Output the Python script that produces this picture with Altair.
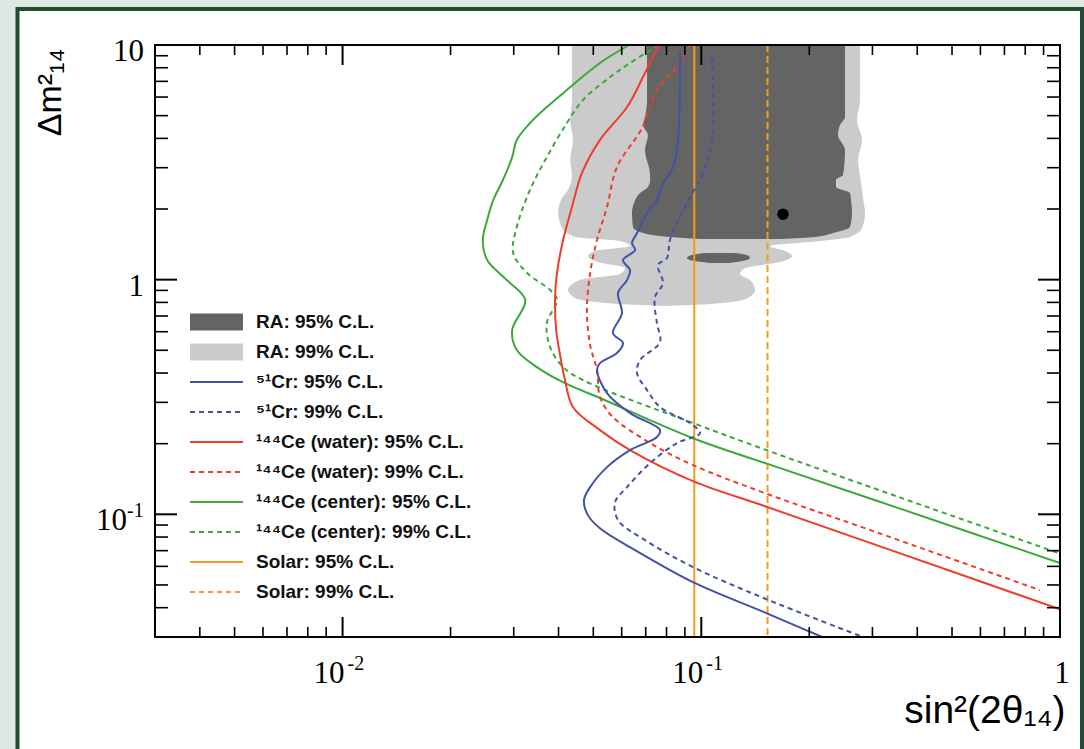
import altair as alt
import pandas as pd

# ---------------- data ----------------
# RA 99% C.L. region: rows of dm2 with left / right edge in sin^2(2theta)
ra99_dm2 = [10, 5.83, 4.79, 3.94, 3.23, 2.79, 2.41, 2.23, 1.922, 1.659, 1.519, 1.460, 1.390, 1.324,
            1.260, 1.189, 1.120, 1.056, 0.996, 0.903, 0.835, 0.787, 0.772]
ra99_lo = [0.0436, 0.0436, 0.0431, 0.0439, 0.0431, 0.0436, 0.0425, 0.0409, 0.0399, 0.0409, 0.0445,
           0.0594, 0.0633, 0.0505, 0.0483, 0.0515, 0.0613, 0.0594, 0.0459, 0.0425, 0.0445, 0.0594, 0.0792]
ra99_hi = [0.2770, 0.2770, 0.2717, 0.2806, 0.2735, 0.2770, 0.2806, 0.2824, 0.2861, 0.2806, 0.2598,
           0.2143, 0.1555, 0.1712, 0.1791, 0.1658, 0.1324, 0.1282, 0.1367, 0.1412, 0.1350, 0.1058, 0.0792]

# RA 95% C.L. region (main body + small island)
ra95_dm2 = [10, 5.83, 4.93, 4.56, 4.13, 3.57, 2.79, 2.66, 2.48, 2.34, 2.18, 1.922, 1.676, 1.580, 1.519, 1.490]
ra95_lo = [0.0706, 0.0706, 0.0697, 0.0688, 0.0710, 0.0697, 0.0720, 0.0720, 0.0710, 0.0675, 0.0654,
           0.0641, 0.0645, 0.0688, 0.0818, 0.0992]
ra95_hi = [0.2516, 0.2516, 0.2516, 0.2436, 0.2405, 0.2516, 0.2484, 0.2374, 0.2374, 0.2598, 0.2615,
           0.2632, 0.2598, 0.2330, 0.2075, 0.1658]
ra95b_dm2 = [1.298, 1.267, 1.236, 1.206, 1.177]
ra95b_lo = [0.1024, 0.0930, 0.0912, 0.0942, 0.1058]
ra95b_hi = [0.1242, 0.1350, 0.1367, 0.1324, 0.1202]

# 51Cr
cr95_x = [0.0872, 0.0872, 0.0861, 0.0834, 0.0782, 0.0752, 0.0706, 0.0662, 0.0641, 0.0654,
          0.0605, 0.0633, 0.0621, 0.0586, 0.0601, 0.0567, 0.0605, 0.0582, 0.0522, 0.0512,
          0.0546, 0.0633, 0.0767, 0.0752, 0.0633, 0.0546, 0.0490, 0.0471, 0.0483, 0.0525,
          0.0654, 0.0948, 0.1496, 0.2171]
cr95_y = [9.24, 7.09, 3.94, 3.02, 2.58, 2.18, 1.922, 1.58, 1.432, 1.337,
          1.212, 1.099, 0.996, 0.877, 0.720, 0.592, 0.537, 0.487, 0.441, 0.412,
          0.3287, 0.270, 0.2285, 0.2134, 0.1878, 0.1589, 0.1306, 0.1149, 0.0992, 0.0865,
          0.0704, 0.0514, 0.0383, 0.030]
cr99_x = [0.1071, 0.1078, 0.1071, 0.1011, 0.0948, 0.0872, 0.0818, 0.0802, 0.0757, 0.0782,
          0.0743, 0.0752, 0.0767, 0.0675, 0.0662, 0.0706, 0.0767, 0.0930, 0.0992, 0.0856,
          0.0720, 0.0621, 0.0575, 0.0586, 0.0697, 0.0948, 0.1496, 0.2824]
cr99_y = [8.89, 6.43, 3.94, 2.85, 2.36, 1.848, 1.475, 1.236, 1.154, 0.967,
          0.843, 0.653, 0.542, 0.454, 0.400, 0.3384, 0.2864, 0.2446, 0.2219, 0.2012,
          0.1653, 0.1306, 0.1127, 0.0945, 0.0776, 0.0596, 0.0439, 0.030]

# 144Ce (water)
cew95_x = [0.0760, 0.0688, 0.0621, 0.0522, 0.0465, 0.0436, 0.0412, 0.0396, 0.0391, 0.0394,
           0.0404, 0.0417, 0.0439, 0.0522, 0.0633, 0.0948, 0.1506, 0.336, 1.0]
cew95_y = [10, 7.30, 5.44, 3.94, 2.85, 2.04, 1.475, 1.067, 0.819, 0.610,
           0.477, 0.373, 0.286, 0.2285, 0.1878, 0.1385, 0.1082, 0.0705, 0.0394]
cew99_x = [0.0930, 0.0856, 0.0752, 0.0684, 0.0582, 0.0546, 0.0512, 0.0490, 0.0480, 0.0490,
           0.0512, 0.0522, 0.0567, 0.0720, 0.0948, 0.1506, 0.290, 0.880]
cew99_y = [10, 8.06, 6.43, 4.43, 3.02, 2.04, 1.475, 1.067, 0.742, 0.526,
           0.412, 0.316, 0.2596, 0.2012, 0.1621, 0.1230, 0.0866, 0.0475]

# 144Ce (center)
cec95_x = [0.0630, 0.0522, 0.0422, 0.0371, 0.0333, 0.0306, 0.0297, 0.0280, 0.0263, 0.0253,
           0.0246, 0.0253, 0.0287, 0.0323, 0.0297, 0.0306, 0.0348, 0.0417, 0.0522, 0.0948,
           0.153, 0.358, 1.0]
cec95_y = [10, 8.38, 6.43, 5.44, 4.65, 3.94, 3.33, 2.66, 2.18, 1.795,
           1.475, 1.212, 0.996, 0.819, 0.610, 0.501, 0.424, 0.362, 0.313, 0.211,
           0.164, 0.1057, 0.062]
cec99_x = [0.0760, 0.0633, 0.0557, 0.0468, 0.0422, 0.0371, 0.0333, 0.0306, 0.0299, 0.0327,
           0.0379, 0.0396, 0.0371, 0.0379, 0.0412, 0.0468, 0.0948, 0.153, 0.358, 1.0]
cec99_y = [10, 8.38, 7.30, 5.83, 4.65, 3.33, 2.41, 1.676, 1.298, 1.067,
           0.903, 0.819, 0.653, 0.516, 0.424, 0.373, 0.245, 0.187, 0.118, 0.068]

# Solar limits and RA best fit
solar95_x = [0.0956]
solar99_x = [0.153]
bestfit_x = [0.169]
bestfit_y = [1.90]

# axis ticks
x_major = [0.01, 0.1, 1]
x_minor = [0.003, 0.004, 0.005, 0.006, 0.007, 0.008, 0.009,
           0.02, 0.03, 0.04, 0.05, 0.06, 0.07, 0.08, 0.09,
           0.2, 0.3, 0.4, 0.5, 0.6, 0.7, 0.8, 0.9]
y_major = [0.1, 1, 10]
y_minor = [0.03, 0.04, 0.05, 0.06, 0.07, 0.08, 0.09,
           0.2, 0.3, 0.4, 0.5, 0.6, 0.7, 0.8, 0.9,
           2, 3, 4, 5, 6, 7, 8, 9]

# tick labels (base and exponent)
xlab_pow_vals = [0.01, 0.1]
xlab_pow_exp = ['-2', '-1']
xlab_one_vals = [1]
ylab_plain_vals = [10, 1]
ylab_plain_text = ['10', '1']
ylab_pow_vals = [0.1]
ylab_pow_exp = ['-1']

# legend
leg_labels = ['RA: 95% C.L.', 'RA: 99% C.L.', '⁵¹Cr: 95% C.L.', '⁵¹Cr: 99% C.L.',
              '¹⁴⁴Ce (water): 95% C.L.', '¹⁴⁴Ce (water): 99% C.L.',
              '¹⁴⁴Ce (center): 95% C.L.', '¹⁴⁴Ce (center): 99% C.L.',
              'Solar: 95% C.L.', 'Solar: 99% C.L.']

DARK, LIGHT = '#646464', '#cbcbcb'
BLUE, RED, GREEN, ORANGE = '#4152a8', '#ef3d2b', '#3ba938', '#f79b1c'
leg_colors = [DARK, LIGHT, BLUE, BLUE, RED, RED, GREEN, GREEN, ORANGE, ORANGE]
leg_width = [17, 17, 2, 2, 2, 2, 2, 2, 2, 2]
leg_dashed = [False, False, False, True, False, True, False, True, False, True]

# ---------------- chart ----------------
W, H = 905, 592
xs = alt.Scale(type='log', domain=[0.003, 1], nice=False)
ys = alt.Scale(type='log', domain=[0.03, 10], nice=False)

x_axis = alt.Axis(values=x_major, labels=False,
                  ticks=False, tickSize=0, domain=False, grid=False,
                  title='sin²(2θ₁₄)', titleFont='Liberation Sans', titleFontSize=39,
                  titleFontWeight='normal', titleColor='black', titleAlign='right',
                  titleAnchor='end', titleBaseline='alphabetic', titleX=910, titleY=85, zindex=2)
y_axis = alt.Axis(values=y_major, labels=False,
                  ticks=False, tickSize=0, domain=False, grid=False,
                  title='Δm²₁₄', titleFont='Liberation Sans', titleFontSize=34,
                  titleFontWeight='normal', titleColor='black', titleAngle=270,
                  titleAlign='right', titleBaseline='alphabetic', titleX=-95, titleY=3, zindex=2)

SERIF = 'Liberation Serif'


def X(f):
    return alt.X(f, type='quantitative', scale=xs, axis=x_axis)


def Y(f):
    return alt.Y(f, type='quantitative', scale=ys, axis=y_axis)


def region(dm2, lo, hi, color):
    df = pd.DataFrame({'dm2': dm2, 'lo': lo, 'hi': hi})
    return alt.Chart(df).mark_area(orient='horizontal', color=color, clip=True,
                                   interpolate='monotone').encode(
        y=Y('dm2'), x=X('lo'), x2=alt.X2('hi'))


def curve(xv, yv, color, dashed):
    df = pd.DataFrame({'x': xv, 'y': yv, 'i': list(range(len(xv)))})
    kw = dict(color=color, strokeWidth=2, clip=True, interpolate='catmull-rom')
    if dashed:
        kw['strokeDash'] = [5, 4]
    return alt.Chart(df).mark_line(**kw).encode(x=X('x'), y=Y('y'), order=alt.Order('i:Q'))


def vline(xv, dashed):
    kw = dict(color=ORANGE, strokeWidth=2)
    if dashed:
        kw['strokeDash'] = [7, 4]
    return alt.Chart(pd.DataFrame({'v': xv})).mark_rule(**kw).encode(x=X('v'))


def xticks(vals, length, sw):
    df = pd.DataFrame({'v': vals})
    bot = alt.Chart(df).mark_rule(color='black', strokeWidth=sw).encode(
        x=X('v'), y=alt.value(H), y2=alt.value(H - length))
    top = alt.Chart(df).mark_rule(color='black', strokeWidth=sw).encode(
        x=X('v'), y=alt.value(0), y2=alt.value(length))
    return [bot, top]


def yticks(vals, length, sw):
    df = pd.DataFrame({'v': vals})
    left = alt.Chart(df).mark_rule(color='black', strokeWidth=sw).encode(
        y=Y('v'), x=alt.value(0), x2=alt.value(length))
    right = alt.Chart(df).mark_rule(color='black', strokeWidth=sw).encode(
        y=Y('v'), x=alt.value(W), x2=alt.value(W - length))
    return [left, right]


def txt(df, size, **kw):
    return alt.Chart(df).mark_text(font=SERIF, fontSize=size, color='black',
                                   baseline='alphabetic', **kw)


# tick labels
xpow = pd.DataFrame({'v': xlab_pow_vals, 'e': xlab_pow_exp})
xone = pd.DataFrame({'v': xlab_one_vals})
yplain = pd.DataFrame({'v': ylab_plain_vals, 't': ylab_plain_text})
ypow = pd.DataFrame({'v': ylab_pow_vals, 'e': ylab_pow_exp})
labels = [
    txt(xpow, 31, align='right', dx=2).encode(x=X('v'), y=alt.value(H + 46), text=alt.value('10')),
    txt(xpow, 20, align='left', dx=5).encode(x=X('v'), y=alt.value(H + 33), text='e:N'),
    txt(xone, 31, align='center', dx=2).encode(x=X('v'), y=alt.value(H + 46), text=alt.value('1')),
    txt(yplain, 31, align='right', dy=16).encode(x=alt.value(-11), y=Y('v'), text='t:N'),
    txt(ypow, 31, align='right', dy=16).encode(x=alt.value(-28), y=Y('v'), text=alt.value('10')),
    txt(ypow, 20, align='left', dy=3).encode(x=alt.value(-28), y=Y('v'), text='e:N'),
]

dot = alt.Chart(pd.DataFrame({'x': bestfit_x, 'y': bestfit_y})).mark_circle(
    color='black', size=130, opacity=1).encode(x=X('x'), y=Y('y'))

data_layer = alt.layer(
    region(ra99_dm2, ra99_lo, ra99_hi, LIGHT),
    region(ra95_dm2, ra95_lo, ra95_hi, DARK),
    region(ra95b_dm2, ra95b_lo, ra95b_hi, DARK),
    vline(solar95_x, False),
    vline(solar99_x, True),
    curve(cec95_x, cec95_y, GREEN, False),
    curve(cec99_x, cec99_y, GREEN, True),
    curve(cew95_x, cew95_y, RED, False),
    curve(cew99_x, cew99_y, RED, True),
    curve(cr95_x, cr95_y, BLUE, False),
    curve(cr99_x, cr99_y, BLUE, True),
    dot,
    *xticks(x_major, 20, 2), *xticks(x_minor, 10, 1.6),
    *yticks(y_major, 22, 2), *yticks(y_minor, 13, 1.6),
    *labels,
)

leg_df = pd.DataFrame({'row': list(range(len(leg_labels))), 'label': leg_labels,
                       'color': leg_colors, 'sw': leg_width, 'dashed': leg_dashed})
LY = alt.Y('row:Q', scale=alt.Scale(domain=[0, 9], range=[277, 547]), axis=None)
leg_solid = alt.Chart(leg_df).transform_filter('!datum.dashed').mark_rule(strokeCap='butt').encode(
    x=alt.value(35), x2=alt.value(88), y=LY,
    color=alt.Color('color:N', scale=None), strokeWidth=alt.StrokeWidth('sw:Q', scale=None))
leg_dash = alt.Chart(leg_df).transform_filter('datum.dashed').mark_rule(
    strokeCap='butt', strokeDash=[5, 4]).encode(
    x=alt.value(35), x2=alt.value(88), y=LY,
    color=alt.Color('color:N', scale=None), strokeWidth=alt.StrokeWidth('sw:Q', scale=None))
leg_text = alt.Chart(leg_df).mark_text(
    align='left', baseline='middle', font='Liberation Sans', fontWeight='bold',
    fontSize=19, color='#111111').encode(x=alt.value(101), y=LY, text='label:N')
legend_layer = alt.layer(leg_solid, leg_dash, leg_text)

one = pd.DataFrame({'a': [0]})
panel = alt.Chart(one).mark_rect(fill='white', stroke='#1f4d30', strokeWidth=4).encode(
    x=alt.value(-137.5), x2=alt.value(927), y=alt.value(-36), y2=alt.value(720))
frame = alt.Chart(one).mark_rect(fill='white', fillOpacity=0, stroke='black', strokeWidth=2).encode(
    x=alt.value(0), x2=alt.value(W), y=alt.value(0), y2=alt.value(H))

chart = alt.layer(panel, data_layer, legend_layer, frame).resolve_scale(
    y='independent'
).properties(
    width=W, height=H,
    padding={'left': 155, 'top': 45, 'right': 24, 'bottom': 112},
    autosize=alt.AutoSizeParams(type='none'),
    background='#dfe7e3',
).configure_view(strokeWidth=0)

chart.save('out.html', embed_options={'renderer': 'svg', 'actions': False})
